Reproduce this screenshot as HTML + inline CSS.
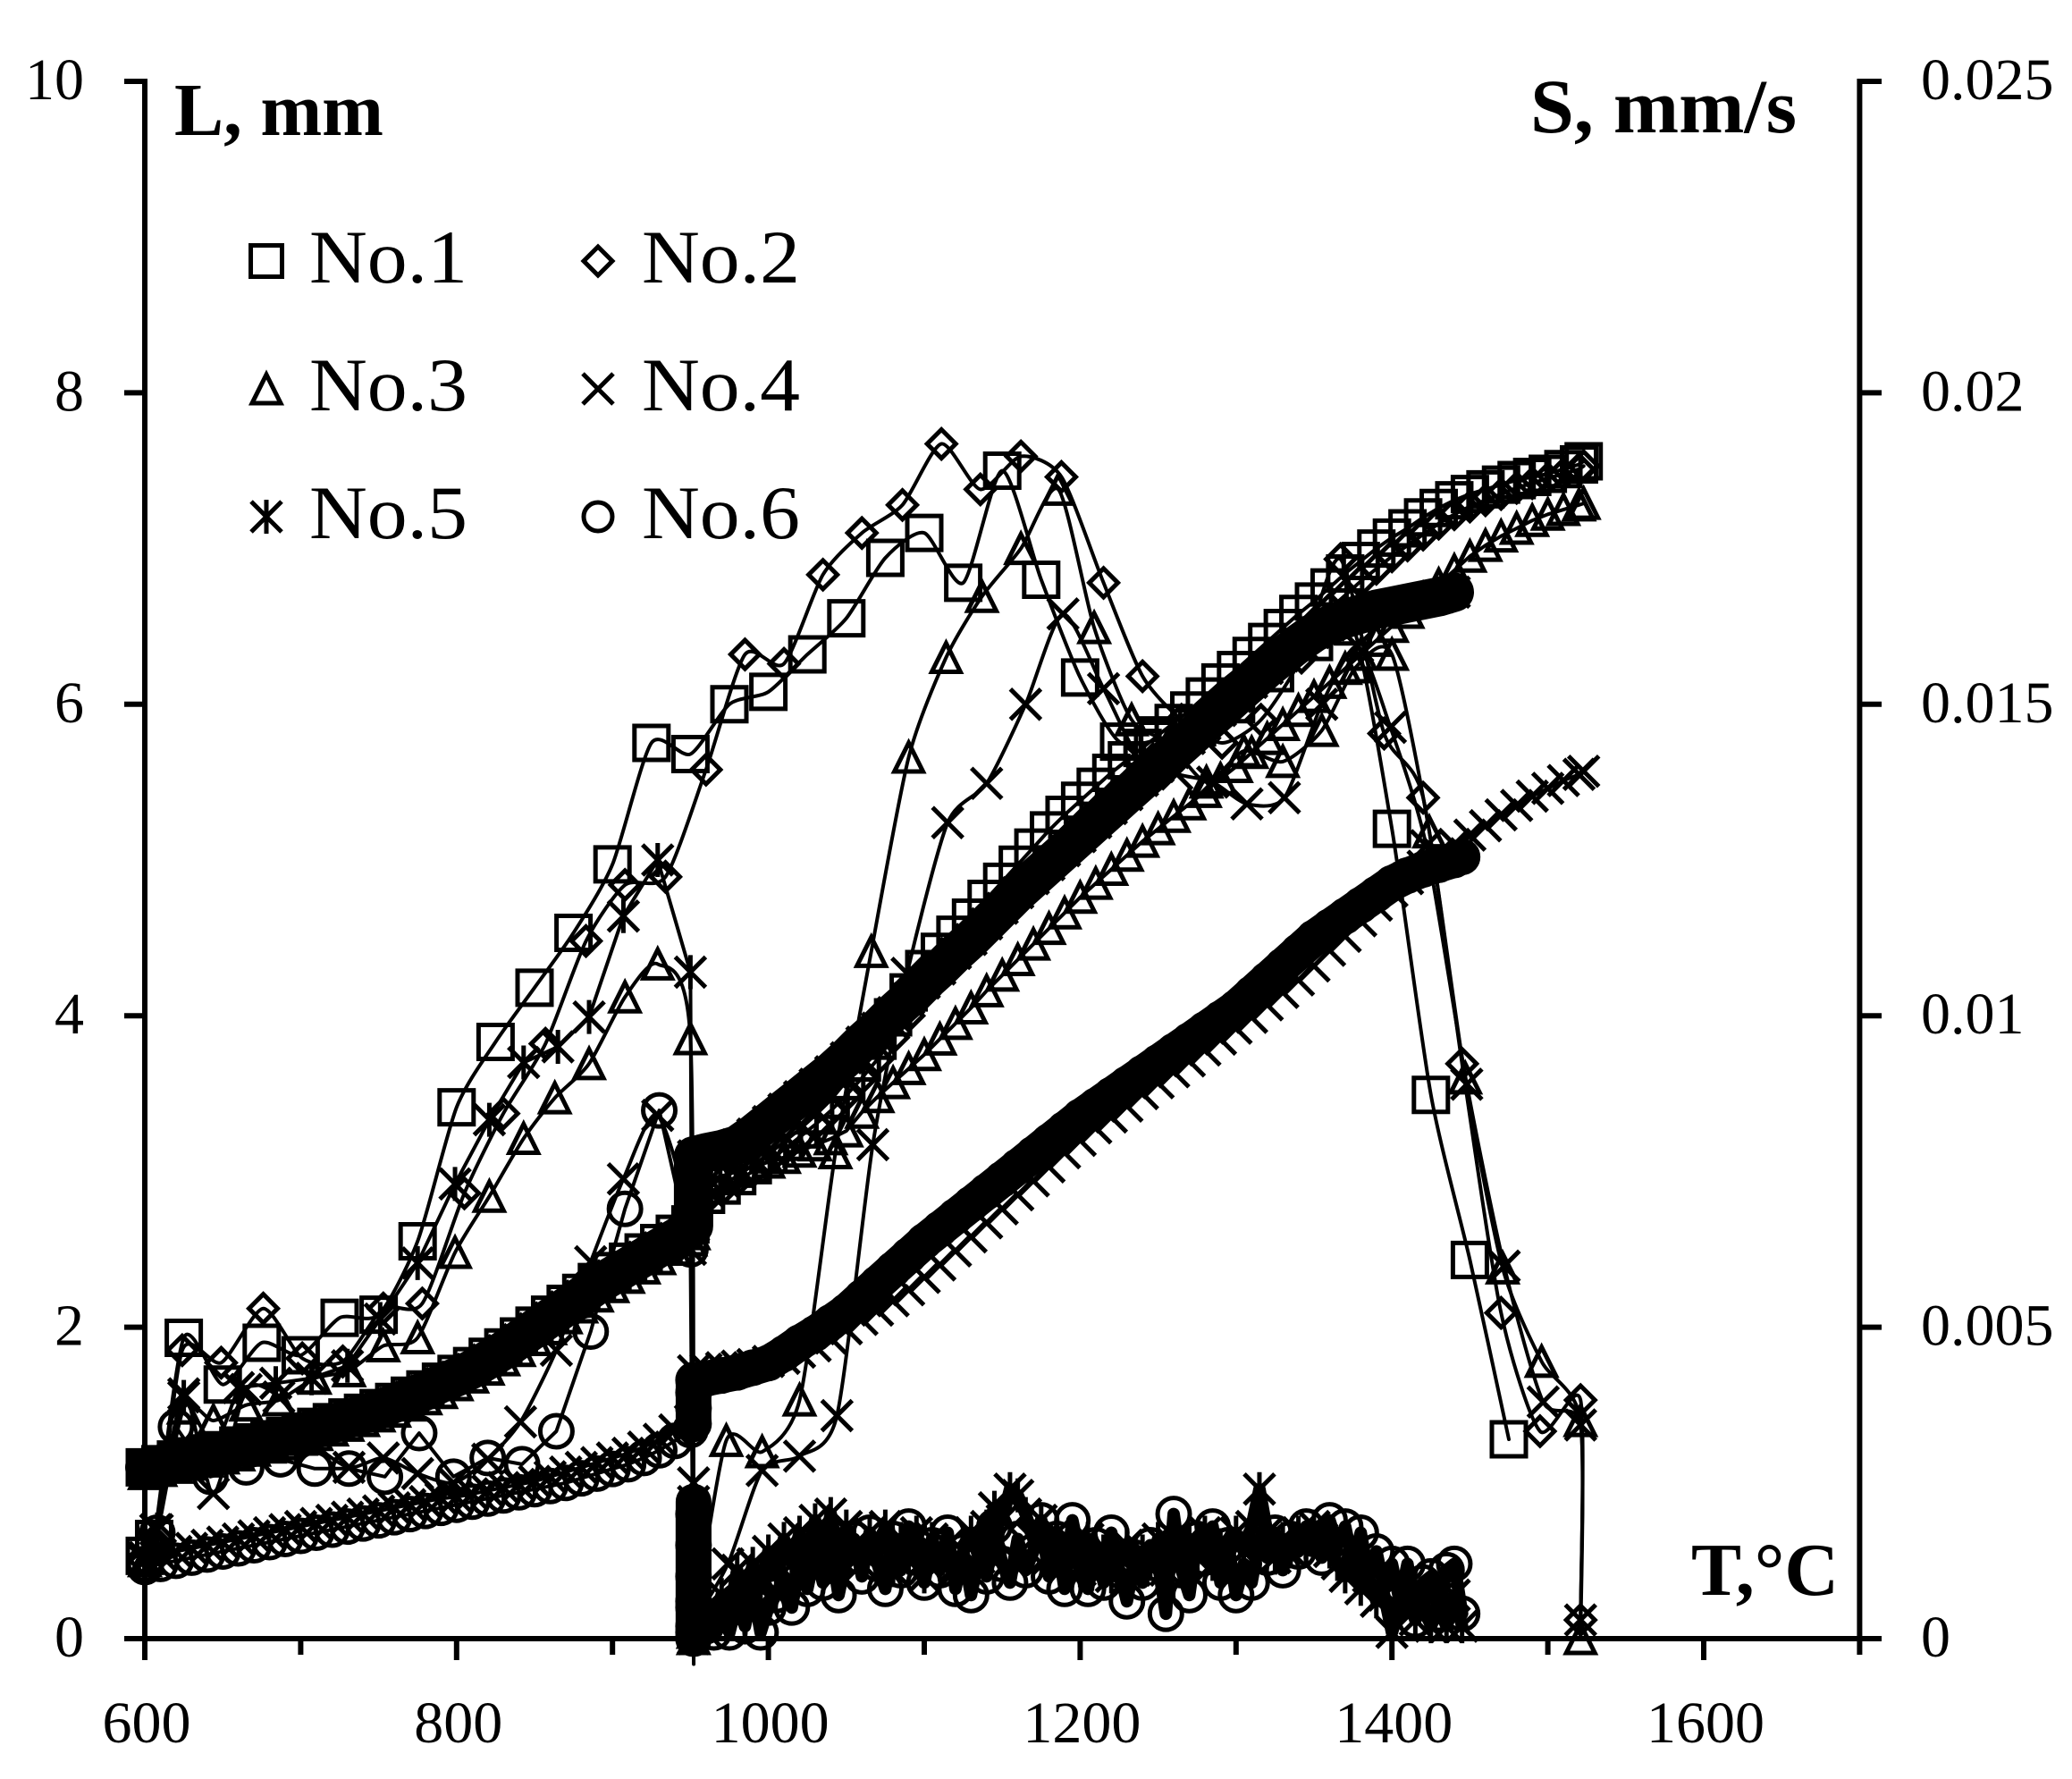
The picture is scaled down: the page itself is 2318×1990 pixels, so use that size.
<!DOCTYPE html>
<html lang="en">
<head>
<meta charset="utf-8">
<title>L and S versus temperature, samples No.1 to No.6</title>
<style>
html,body{margin:0;padding:0;background:#fff}
svg{display:block}
text{font-family:"Liberation Serif",serif;fill:#000}
</style>
</head>
<body>
<svg id="chart" xmlns="http://www.w3.org/2000/svg" width="2318" height="1990" viewBox="0 0 2318 1990">
<rect x="0" y="0" width="2318" height="1990" fill="#fff"/>
<g id="marks"></g>
<g id="axes"></g>
<text x="195" y="151" font-size="84" font-weight="bold" textLength="234" lengthAdjust="spacingAndGlyphs">L, mm</text>
<text x="1712" y="148" font-size="86" font-weight="bold" textLength="298" lengthAdjust="spacingAndGlyphs">S, mm/s</text>
<text x="1892" y="1784" font-size="84" font-weight="bold">T,°C</text>
<g id="legend">
<text x="346" y="316" font-size="85" textLength="177" lengthAdjust="spacingAndGlyphs">No.1</text>
<text x="718" y="316" font-size="85" textLength="177" lengthAdjust="spacingAndGlyphs">No.2</text>
<text x="346" y="459" font-size="85" textLength="177" lengthAdjust="spacingAndGlyphs">No.3</text>
<text x="718" y="459" font-size="85" textLength="177" lengthAdjust="spacingAndGlyphs">No.4</text>
<text x="346" y="602" font-size="85" textLength="177" lengthAdjust="spacingAndGlyphs">No.5</text>
<text x="718" y="602" font-size="85" textLength="177" lengthAdjust="spacingAndGlyphs">No.6</text>
</g>
</svg>
<script>
// Axis tick data
const xMajorTicks = [600, 800, 1000, 1200, 1400, 1600];
const xMinorTicks = [700, 900, 1100, 1300, 1500, 1700];
const lengthTicks = [0, 2, 4, 6, 8, 10];
const speedTicks = [0, 0.005, 0.01, 0.015, 0.02, 0.025];
const speedTickLabels = ['0', '0.005', '0.01', '0.015', '0.02', '0.025'];

// Length L (mm) sample temperatures
const lengthTempsHeat = [600,610,620,630,640,650,660,670,680,690,700,710,720,730,740,750,760,770,780,790,800,810,820,830,840,850,860,870,880,890,900,910,920,930,940,950];
const lengthTempsLate = [960,970,980,990,1000,1010,1020,1030,1040,1050,1060,1070,1080,1090,1100,1110,1120,1130,1140,1150,1160,1170,1180,1190,1200,1210,1220,1230,1240,1250,1260,1270,1280,1290,1300,1310,1320,1330,1340,1350,1360,1370,1380,1390,1400,1410,1420,1430,1440,1450,1460,1470,1480,1490,1500,1510,1520,1523];
const lengthTempsShort = [960,970,980,990,1000,1010,1020,1030,1040,1050,1060,1070,1080,1090,1100,1110,1120,1130,1140,1150,1160,1170,1180,1190,1200,1210,1220,1230,1240,1250,1260,1270,1280,1290,1300,1310,1320,1330,1340,1350,1360,1370,1380,1390,1400,1410,1420,1430,1440,1445];
const lengthTempsNo5 = [960,970,980,990,1000,1010,1020,1030,1040,1050,1060,1070,1080,1090,1100,1110,1120,1130,1140,1150,1160,1170,1180,1190,1200,1210,1220,1230,1240,1250,1260,1270,1280,1290,1300,1310,1320,1330,1340,1350,1360,1370,1380,1390,1400,1410,1420,1430,1440];
const dwellTemps = [952,952,952,952];
const dwellTempsLong = [952,952,952,952,952];

// Length L (mm) values
const no1LengthHeat = [1.10,1.12,1.15,1.17,1.19,1.21,1.24,1.26,1.28,1.30,1.33,1.36,1.39,1.42,1.45,1.48,1.52,1.56,1.60,1.65,1.70,1.75,1.81,1.87,1.94,2.01,2.08,2.15,2.22,2.29,2.36,2.42,2.48,2.54,2.60,2.66];
const no1LengthLate = [2.85,2.91,2.97,3.04,3.11,3.19,3.27,3.36,3.46,3.58,3.70,3.84,3.99,4.15,4.30,4.41,4.52,4.63,4.75,4.86,4.97,5.08,5.19,5.29,5.38,5.47,5.56,5.64,5.72,5.80,5.88,5.96,6.05,6.14,6.22,6.31,6.40,6.49,6.58,6.66,6.75,6.84,6.92,7.00,7.07,7.13,7.20,7.26,7.31,7.35,7.38,7.41,7.44,7.46,7.48,7.51,7.54,7.56];
const no2LengthHeat = [1.08,1.10,1.12,1.14,1.16,1.19,1.21,1.23,1.26,1.28,1.31,1.34,1.37,1.40,1.43,1.46,1.50,1.54,1.58,1.63,1.68,1.73,1.78,1.84,1.91,1.98,2.05,2.12,2.19,2.26,2.32,2.38,2.44,2.50,2.56,2.62];
const no2LengthLate = [2.82,2.88,2.94,3.00,3.07,3.14,3.22,3.30,3.39,3.49,3.60,3.72,3.86,4.00,4.14,4.25,4.36,4.47,4.58,4.69,4.80,4.91,5.02,5.12,5.22,5.31,5.40,5.48,5.56,5.64,5.72,5.80,5.89,5.98,6.07,6.16,6.25,6.34,6.43,6.52,6.61,6.70,6.79,6.87,6.95,7.02,7.09,7.16,7.22,7.27,7.31,7.35,7.39,7.42,7.45,7.48,7.51,7.53];
const no3LengthHeat = [1.06,1.08,1.10,1.12,1.14,1.16,1.18,1.21,1.23,1.25,1.28,1.31,1.34,1.37,1.40,1.43,1.46,1.50,1.54,1.58,1.63,1.68,1.73,1.79,1.85,1.92,1.99,2.06,2.13,2.20,2.26,2.32,2.38,2.44,2.50,2.56];
const no3LengthDwell = [2.60,2.70,2.80,2.90];
const no3LengthLate = [2.94,2.97,3.00,3.03,3.06,3.09,3.13,3.17,3.21,3.26,3.38,3.48,3.57,3.66,3.75,3.85,3.95,4.05,4.16,4.26,4.36,4.46,4.56,4.66,4.76,4.85,4.94,5.03,5.12,5.20,5.28,5.36,5.44,5.52,5.60,5.69,5.78,5.87,5.96,6.05,6.14,6.23,6.32,6.41,6.50,6.59,6.68,6.77,6.86,6.95,7.02,7.08,7.13,7.18,7.22,7.25,7.28,7.29];
const no4LengthHeat = [0.52,0.54,0.56,0.58,0.60,0.62,0.64,0.66,0.68,0.70,0.72,0.74,0.76,0.78,0.80,0.82,0.84,0.86,0.88,0.90,0.91,0.93,0.95,0.97,0.99,1.01,1.04,1.07,1.10,1.13,1.16,1.19,1.23,1.28,1.34,1.40];
const no4LengthDwell = [1.42,1.52,1.62,1.72];
const no4LengthLate = [1.73,1.74,1.75,1.76,1.78,1.80,1.84,1.88,1.93,1.99,2.05,2.11,2.17,2.24,2.32,2.40,2.49,2.58,2.67,2.76,2.85,2.94,3.03,3.12,3.20,3.28,3.35,3.42,3.50,3.57,3.64,3.71,3.78,3.85,3.92,3.99,4.07,4.15,4.23,4.32,4.42,4.51,4.61,4.71,4.80,4.88,4.96,5.04,5.10,5.16,5.22,5.29,5.35,5.41,5.46,5.51,5.55,5.57];
const no5LengthHeat = [1.10,1.12,1.14,1.16,1.18,1.20,1.23,1.25,1.27,1.30,1.32,1.35,1.38,1.41,1.44,1.47,1.51,1.55,1.59,1.64,1.68,1.73,1.79,1.85,1.92,1.99,2.06,2.13,2.20,2.27,2.33,2.39,2.45,2.51,2.57,2.63];
const no5LengthDwell = [2.65,2.78,2.90,3.00,3.10];
const no5LengthLate = [3.12,3.14,3.17,3.24,3.32,3.40,3.48,3.56,3.64,3.73,3.83,3.92,4.02,4.11,4.21,4.30,4.40,4.49,4.59,4.69,4.79,4.88,4.97,5.06,5.15,5.24,5.33,5.42,5.51,5.60,5.69,5.78,5.87,5.96,6.05,6.14,6.23,6.31,6.39,6.46,6.51,6.55,6.58,6.61,6.63,6.65,6.67,6.69,6.72];
const no6LengthHeat = [0.46,0.48,0.50,0.52,0.54,0.56,0.58,0.60,0.62,0.64,0.66,0.68,0.70,0.72,0.74,0.76,0.78,0.80,0.82,0.84,0.86,0.88,0.90,0.92,0.94,0.96,0.98,1.00,1.03,1.06,1.09,1.12,1.16,1.21,1.27,1.34];
const no6LengthDwell = [1.38,1.48,1.58,1.66];
const no6LengthLate = [1.67,1.69,1.71,1.74,1.77,1.83,1.90,1.96,2.03,2.10,2.19,2.28,2.37,2.46,2.55,2.63,2.71,2.79,2.87,2.95,3.03,3.11,3.19,3.27,3.35,3.42,3.49,3.56,3.63,3.70,3.77,3.84,3.91,3.98,4.05,4.14,4.23,4.32,4.41,4.50,4.57,4.64,4.71,4.78,4.85,4.90,4.94,4.97,5.00,5.02];

// Speed S (mm/s) series
const no1SpeedTemps = [600,606,625,650,675,700,725,750,775,800,825,850,875,900,925,950,975,1000,1025,1050,1075,1100,1125,1150,1175,1200,1225,1250,1275,1300,1325,1350,1375,1400,1425,1450,1475];
const no1Speed = [.00133,.0016,.00483,.00408,.00475,.00455,.00515,.0052,.00638,.00853,.00958,.01045,.01133,.01243,.01438,.0142,.015,.0152,.0158,.01638,.01735,.01775,.01695,.01875,.017,.01543,.0144,.01443,.01463,.015,.0155,.016,.01625,.013,.00873,.00608,.0032];
const no2SpeedTemps = [600,608,624,649,676,701,727,753,778,805,830,857,883,908,934,960,985,1010,1035,1060,1086,1111,1136,1162,1188,1215,1240,1265,1291,1316,1342,1367,1395,1420,1445,1470,1495,1521,1521];
const no2Speed = [.00125,.00163,.00463,.00443,.0053,.0045,.00445,.0053,.00538,.00715,.00843,.00955,.0112,.0121,.01223,.01395,.0158,.01565,.01708,.01775,.0182,.01918,.01845,.01898,.01865,.01695,.01545,.01475,.01438,.01475,.01575,.01733,.01453,.0135,.00923,.00523,.00333,.00383,.0003];
const no3SpeedTemps = [600,607,625,644,665,686,709,731,753,775,799,821,843,863,885,908,929,950,952,952,952,952,952,952,952,952,973,996,1020,1043,1066,1090,1114,1137,1162,1186,1209,1233,1257,1281,1305,1330,1355,1377,1400,1424,1447,1471,1496,1521,1521];
const no3Speed = [.00125,.00155,.0037,.0035,.00375,.00383,.00418,.0043,.0047,.00483,.0062,.0071,.00803,.00868,.00923,.0103,.01083,.00963,0,.0004,.0001,.0009,.0005,.0014,.0007,.0002,.00318,.003,.00383,.0078,.01103,.01415,.01575,.01673,.0175,.01845,.01623,.01475,.01438,.01375,.01425,.01408,.01458,.0156,.0158,.01295,.009,.00595,.00445,.0035,0];
const no4SpeedTemps = [600,607,625,644,665,686,709,731,753,775,798,820,841,864,886,907,929,950,952,952,952,952,952,952,952,952,974,996,1020,1044,1067,1089,1115,1140,1165,1189,1215,1238,1262,1285,1307,1331,1355,1378,1399,1422,1448,1472,1497,1521,1521];
const no4Speed = [.0013,.00175,.00393,.00233,.004,.00388,.00313,.00275,.0029,.00265,.0025,.00288,.00348,.00463,.00605,.00738,.0084,.00625,0,.0006,.0002,.0011,.0016,.0025,.0008,.0003,.0012,.0027,.00293,.00358,.00793,.01068,.0131,.01373,.015,.01645,.01525,.01413,.01388,.01375,.0134,.0135,.015,.01593,.01463,.01273,.0089,.00598,.0038,.00343,.0003];
const no5SpeedTemps = [600,608,625,645,660,684,707,730,751,775,799,821,843,865,885,907,929,950,952,952,952,952,952,952,952,952,960,965,970,975,980,985,990,995,1000,1005,1010,1015,1020,1025,1030,1035,1040,1045,1050,1055,1060,1065,1070,1075,1080,1085,1090,1095,1100,1105,1110,1115,1120,1125,1130,1135,1140,1145,1150,1155,1160,1165,1170,1175,1180,1185,1190,1195,1200,1205,1210,1215,1220,1225,1230,1235,1240,1245,1250,1255,1260,1265,1270,1275,1280,1285,1290,1295,1300,1305,1310,1315,1320,1325,1330,1335,1340,1345,1350,1355,1360,1365,1370,1375,1380,1385,1390,1395,1400,1405,1410,1415,1420,1425,1430,1435,1440,1445];
const no5Speed = [.00125,.00175,.00388,.003,.00403,.0041,.00418,.00438,.00513,.00603,.0073,.00833,.00925,.0095,.00998,.0116,.0125,.0107,0,.0007,.0013,.0003,.0018,.0022,.0009,.0002,.0005,.0003,.0007,.0004,.0011,.0006,.0012,.0008,.0014,.0011,.0016,.0012,.0017,.0013,.0019,.0014,.0020,.0013,.0018,.0015,.0012,.0017,.0014,.0018,.0011,.0016,.0013,.0017,.0010,.0016,.0012,.0015,.0011,.0014,.0017,.0013,.0018,.0021,.0019,.0024,.0023,.0020,.0016,.0019,.0013,.0017,.0012,.0015,.0011,.0016,.0012,.0014,.0010,.0013,.0015,.0011,.0014,.0012,.0016,.0011,.0015,.0012,.0016,.0013,.0017,.0012,.0015,.0013,.0017,.0014,.0018,.0024,.0017,.0013,.0016,.0014,.0017,.0015,.0018,.0016,.0014,.0012,.0010,.0012,.0008,.0010,.0006,.0007,.0001,.0005,.0007,.0003,.0006,.0002,.0005,.0002,.0007,.0002];
const no6SpeedTemps = [600,608,620,642,665,687,709,731,754,776,798,820,842,864,886,908,930,950,952,952,952,952,952,952,952,952,960,965,970,975,980,985,990,995,1000,1005,1010,1015,1020,1025,1030,1035,1040,1045,1050,1055,1060,1065,1070,1075,1080,1085,1090,1095,1100,1105,1110,1115,1120,1125,1130,1135,1140,1145,1150,1155,1160,1165,1170,1175,1180,1185,1190,1195,1200,1205,1210,1215,1220,1225,1230,1235,1240,1245,1250,1255,1260,1265,1270,1275,1280,1285,1290,1295,1300,1305,1310,1315,1320,1325,1330,1335,1340,1345,1350,1355,1360,1365,1370,1375,1380,1385,1390,1395,1400,1405,1410,1415,1420,1425,1430,1435,1440,1445];
const no6Speed = [.0012,.0017,.0034,.0026,.00275,.00288,.00273,.00273,.0026,.0033,.0026,.0029,.0028,.00333,.00493,.0069,.00848,.00625,0,.0005,.0010,.0002,.0015,.0020,.0006,.0001,.0002,.0001,.0004,.0001,.0006,.0002,.0008,.0001,.0005,.0007,.0010,.0005,.0012,.0008,.0014,.0009,.0015,.0007,.0013,.0016,.0010,.0017,.0012,.0008,.0016,.0011,.0018,.0013,.0009,.0015,.0011,.0017,.0008,.0014,.0007,.0013,.0010,.0018,.0012,.0009,.0016,.0011,.0014,.0019,.0010,.0016,.0008,.0019,.0013,.0008,.0015,.0009,.0017,.0011,.0006,.0013,.0009,.0015,.0012,.0004,.0020,.0011,.0007,.0016,.0013,.0018,.0009,.0015,.0007,.0012,.0009,.0016,.0013,.0017,.0011,.0016,.0014,.0018,.0016,.0013,.0019,.0015,.0018,.0012,.0017,.0010,.0014,.0008,.0012,.0006,.0012,.0003,.0009,.0010,.0004,.0011,.0012,.0004];

// Axis functions
function xScale(t) { return 162 + (t - 600) * 1.744; }
function yLength(v) { return 1833 - v * 174.2; }
function ySpeed(v) { return 1833 - v * 69680; }

const NS = 'http://www.w3.org/2000/svg';
const marksLayer = document.getElementById('marks');
const axesLayer = document.getElementById('axes');
const legendLayer = document.getElementById('legend');

function markerPath(kind, x, y, legend) {
  const q = legend ? 0.92 : 1;
  if (kind === 'square') {
    const h = 19 * q;
    return `M${x-h} ${y-h}H${x+h}V${y+h}H${x-h}Z`;
  }
  if (kind === 'diamond') {
    const h = 16;
    return `M${x} ${y-h}L${x+h} ${y}L${x} ${y+h}L${x-h} ${y}Z`;
  }
  if (kind === 'triangle') {
    const h = 16;
    return `M${x} ${y-h}L${x+h} ${y+h}H${x-h}Z`;
  }
  if (kind === 'cross') {
    const h = 17;
    return `M${x-h} ${y-h}L${x+h} ${y+h}M${x+h} ${y-h}L${x-h} ${y+h}`;
  }
  if (kind === 'star') {
    const h = 17;
    return `M${x-h} ${y-h}L${x+h} ${y+h}M${x+h} ${y-h}L${x-h} ${y+h}M${x} ${y-h-2}V${y+h+2}`;
  }
  const r = legend ? 16 : 18;
  return `M${x-r} ${y}A${r} ${r} 0 1 1 ${x+r} ${y}A${r} ${r} 0 1 1 ${x-r} ${y}Z`;
}

function linePath(points, smooth) {
  let d = `M${points[0][0].toFixed(1)} ${points[0][1].toFixed(1)}`;
  for (let i = 0; i < points.length - 1; i++) {
    const p0 = points[Math.max(i - 1, 0)];
    const p1 = points[i];
    const p2 = points[i + 1];
    const p3 = points[Math.min(i + 2, points.length - 1)];
    if (smooth) {
      const k = 0.12;
      const c1x = p1[0] + (p2[0] - p0[0]) * k;
      const c1y = p1[1] + (p2[1] - p0[1]) * k;
      const c2x = p2[0] - (p3[0] - p1[0]) * k;
      const c2y = p2[1] - (p3[1] - p1[1]) * k;
      d += `C${c1x.toFixed(1)} ${c1y.toFixed(1)} ${c2x.toFixed(1)} ${c2y.toFixed(1)} ${p2[0].toFixed(1)} ${p2[1].toFixed(1)}`;
    } else {
      d += `L${p2[0].toFixed(1)} ${p2[1].toFixed(1)}`;
    }
  }
  return d;
}

function drawLine(parent, name, temps, values, yScale, lineWidth, smooth) {
  const points = temps.map((t, i) => [xScale(t), yScale(values[i])]);
  const line = document.createElementNS(NS, 'path');
  
  
  line.setAttribute('d', linePath(points, smooth));
  line.setAttribute('fill', 'none');
  line.setAttribute('stroke', '#000');
  line.setAttribute('stroke-width', lineWidth);
  line.setAttribute('stroke-linejoin', 'round');
  line.setAttribute('stroke-linecap', 'round');
  parent.appendChild(line);
  return points;
}

function drawSeries(name, kind, temps, values, yScale, lineWidth, smooth) {
  const group = document.createElementNS(NS, 'g');
  
  
  const points = drawLine(group, name, temps, values, yScale, lineWidth, smooth);
  points.forEach(p => {
    const mark = document.createElementNS(NS, 'path');
    
    
    mark.setAttribute('d', markerPath(kind, p[0], p[1], false));
    mark.setAttribute('fill', 'none');
    mark.setAttribute('stroke', '#000');
    mark.setAttribute('stroke-width', 5);
    group.appendChild(mark);
  });
  marksLayer.appendChild(group);
}

const thin = 4;
const bandNo5 = 44;
const bandNo6 = 40;
const noiseBand = 14;
const columnBand = 40;
const dwellStart = 18;
const noiseStart = 26;

drawSeries('no1-speed', 'square', no1SpeedTemps, no1Speed, ySpeed, thin, true);
drawSeries('no2-speed', 'diamond', no2SpeedTemps, no2Speed, ySpeed, thin, true);
drawSeries('no3-speed', 'triangle', no3SpeedTemps, no3Speed, ySpeed, thin, true);
drawSeries('no4-speed', 'cross', no4SpeedTemps, no4Speed, ySpeed, thin, true);
drawSeries('no5-speed', 'star', no5SpeedTemps, no5Speed, ySpeed, thin, false);
drawSeries('no6-speed', 'circle', no6SpeedTemps, no6Speed, ySpeed, thin, false);
drawLine(marksLayer, 'no5-speed-dense', no5SpeedTemps.slice(noiseStart), no5Speed.slice(noiseStart), ySpeed, noiseBand, false);
drawLine(marksLayer, 'no6-speed-dense', no6SpeedTemps.slice(noiseStart), no6Speed.slice(noiseStart), ySpeed, noiseBand, false);
drawLine(marksLayer, 'no5-speed-dwell', no5SpeedTemps.slice(dwellStart, noiseStart), no5Speed.slice(dwellStart, noiseStart), ySpeed, columnBand, false);
drawLine(marksLayer, 'no6-speed-dwell', no6SpeedTemps.slice(dwellStart, noiseStart), no6Speed.slice(dwellStart, noiseStart), ySpeed, columnBand, false);

drawSeries('no1-length', 'square', lengthTempsHeat.concat(lengthTempsLate), no1LengthHeat.concat(no1LengthLate), yLength, thin, false);
drawSeries('no2-length', 'diamond', lengthTempsHeat.concat(lengthTempsLate), no2LengthHeat.concat(no2LengthLate), yLength, thin, false);
drawSeries('no3-length', 'triangle', lengthTempsHeat.concat(dwellTemps, lengthTempsLate), no3LengthHeat.concat(no3LengthDwell, no3LengthLate), yLength, thin, false);
drawSeries('no4-length', 'cross', lengthTempsHeat.concat(dwellTemps, lengthTempsLate), no4LengthHeat.concat(no4LengthDwell, no4LengthLate), yLength, thin, false);
drawSeries('no5-length', 'star', lengthTempsHeat.concat(dwellTempsLong, lengthTempsNo5), no5LengthHeat.concat(no5LengthDwell, no5LengthLate), yLength, bandNo5, false);
drawSeries('no6-length-heating', 'circle', lengthTempsHeat, no6LengthHeat, yLength, thin, false);
drawSeries('no6-length-sintering', 'circle', dwellTemps.concat(lengthTempsShort), no6LengthDwell.concat(no6LengthLate), yLength, bandNo6, false);

function axisLine(name, x1, y1, x2, y2) {
  const el = document.createElementNS(NS, 'line');
  
  
  el.setAttribute('x1', x1);
  el.setAttribute('y1', y1);
  el.setAttribute('x2', x2);
  el.setAttribute('y2', y2);
  el.setAttribute('stroke', '#000');
  el.setAttribute('stroke-width', 6);
  axesLayer.appendChild(el);
}

function axisText(name, x, y, anchor, label) {
  const el = document.createElementNS(NS, 'text');
  
  
  el.setAttribute('x', x);
  el.setAttribute('y', y);
  el.setAttribute('text-anchor', anchor);
  el.setAttribute('font-size', 66);
  el.textContent = label;
  axesLayer.appendChild(el);
}

axisLine('left-y-axis', 162, 88, 162, 1836);
axisLine('right-y-axis', xScale(1700), 88, xScale(1700), 1836);
axisLine('x-axis', 139, 1833, 2105, 1833);

xMajorTicks.forEach(t => {
  axisLine('x-major-tick', xScale(t), 1833, xScale(t), 1857);
  axisText('x-tick-label', xScale(t) + 2, 1949, 'middle', String(t));
});
xMinorTicks.forEach(t => {
  axisLine('x-minor-tick', xScale(t), 1833, xScale(t), 1851);
});
lengthTicks.forEach(v => {
  axisLine('left-y-tick', 139, yLength(v), 162, yLength(v));
  axisText('left-y-tick-label', 94, yLength(v) + 20, 'end', String(v));
});
speedTicks.forEach((v, i) => {
  axisLine('right-y-tick', xScale(1700), ySpeed(v), 2105, ySpeed(v));
  axisText('right-y-tick-label', 2149, ySpeed(v) + 20, 'start', speedTickLabels[i]);
});

function legendMarker(name, kind, x, y) {
  const el = document.createElementNS(NS, 'path');
  
  
  el.setAttribute('d', markerPath(kind, x, y, true));
  el.setAttribute('fill', 'none');
  el.setAttribute('stroke', '#000');
  el.setAttribute('stroke-width', 5);
  legendLayer.appendChild(el);
}
legendMarker('legend-marker-no1', 'square', 298, 292);
legendMarker('legend-marker-no2', 'diamond', 669, 292);
legendMarker('legend-marker-no3', 'triangle', 298, 435);
legendMarker('legend-marker-no4', 'cross', 669, 435);
legendMarker('legend-marker-no5', 'star', 298, 578);
legendMarker('legend-marker-no6', 'circle', 669, 578);
</script>
</body>
</html>
